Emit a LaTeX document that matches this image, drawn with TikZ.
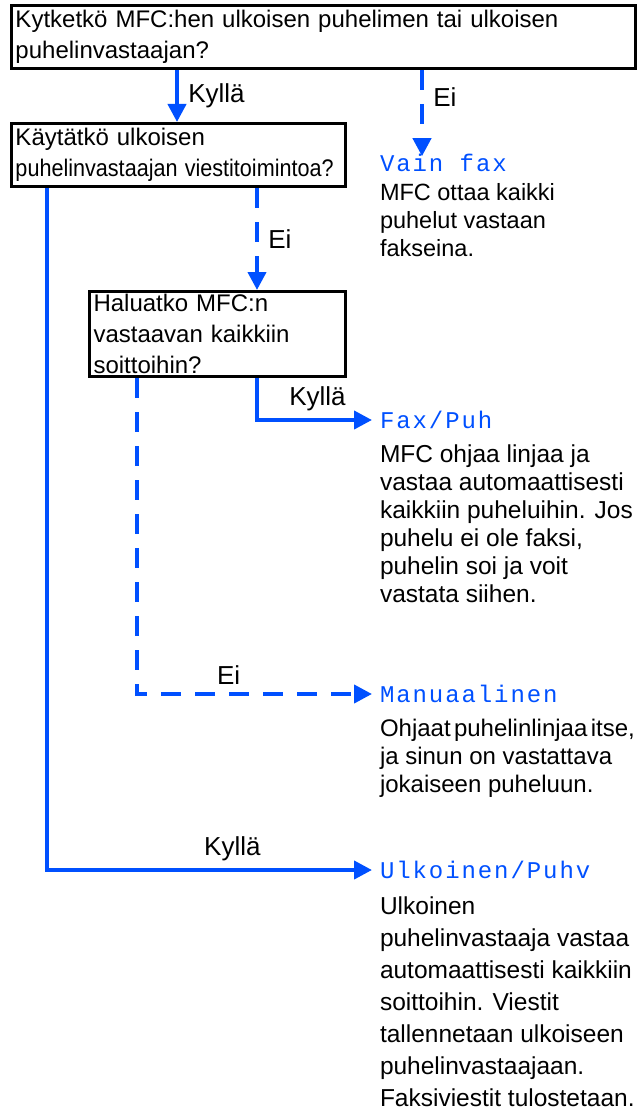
\documentclass[tikz,border=0pt]{standalone}
\usepackage{fontspec}
\usepackage{graphicx}
\setmainfont{Liberation Sans}
\newfontfamily\lcdfont[LetterSpace=8]{Liberation Mono}
\usetikzlibrary{arrows.meta,positioning}
\definecolor{flowblue}{RGB}{0,80,255}

\begin{document}
\begin{tikzpicture}[x=1pt,y=-1pt,line width=4pt,>={Triangle[length=18pt,width=18pt]},
  qbox/.style={draw,line width=3pt,anchor=north west,align=left,inner xsep=4pt,inner ysep=2pt,font=\fontsize{24}{31}\selectfont},
  mode/.style={anchor=west,inner sep=0pt,text=flowblue,font=\lcdfont\fontsize{24}{28}\selectfont},
  desc/.style={anchor=north west,inner sep=0pt,align=left,font=\fontsize{24.5}{28}\selectfont},
  yes/.style={draw=flowblue,->},
  no/.style={draw=flowblue,->,dash pattern=on 20pt off 14pt},
  lbl/.style={font=\fontsize{26}{30}\selectfont,text=black}]
  \useasboundingbox (0,0) rectangle (640,1113);

  % questions
  \node[qbox,text width=616pt,minimum height=63pt] (q1) at (10,4)
    {Kytketkö MFC:hen ulkoisen puhelimen tai ulkoisen\\puhelinvastaajan?};
  \node[qbox,text width=326pt,minimum height=63pt] (q2) at (10,122)
    {Käytätkö ulkoisen\\\scalebox{0.9}[1]{puhelinvastaajan viestitoimintoa?}};
  \node[qbox,text width=248pt,minimum height=85pt] (q3) at (88,290)
    {Haluatko MFC:n\\vastaavan kaikkiin\\soittoihin?};

  % modes
  \node[mode] (vf) at (378,163) {Vain fax};
  \node[desc,below=8pt of vf.south west,anchor=north west,font=\fontsize{23.5}{28}\selectfont] (vfd)
    {MFC ottaa kaikki\\puhelut vastaan\\fakseina.};
  \node[mode] (fp) at (378,420) {Fax/Puh};
  \node[desc,below=12pt of fp.south west,anchor=north west] (fpd)
    {MFC ohjaa linjaa ja\\vastaa automaattisesti\\kaikkiin puheluihin. Jos\\puhelu ei ole faksi,\\puhelin soi ja voit\\vastata siihen.};
  \node[mode] (man) at (378,694) {Manuaalinen};
  \node[desc,below=12pt of man.south west,anchor=north west,font=\fontsize{24}{28}\selectfont] (mand)
    {{\spaceskip=0.14em Ohjaat puhelinlinjaa itse,}\\ja sinun on vastattava\\jokaiseen puheluun.};
  \node[mode] (ulk) at (378,870) {Ulkoinen/Puhv};
  \node[desc,below=14pt of ulk.south west,anchor=north west,font=\fontsize{24.5}{32}\selectfont] (ulkd)
    {Ulkoinen\\puhelinvastaaja vastaa\\automaattisesti kaikkiin\\soittoihin. Viestit\\tallennetaan ulkoiseen\\puhelinvastaajaan.\\Faksiviestit tulostetaan.};

  % connectors
  \draw[yes] ([xshift=167pt]q1.south west) -- node[lbl,right=6pt]{Kyllä} ([xshift=167pt]q2.north west);
  \draw[no] ([xshift=412pt]q1.south west) -- node[lbl,right=6pt,pos=0.32]{Ei} ([xshift=44pt,yshift=-4pt]vf.north west);
  \draw[no] ([xshift=247pt]q2.south west) -- node[lbl,right=6pt]{Ei} ([xshift=169pt]q3.north west);
  \draw[yes,shorten >=6pt] ([xshift=169pt]q3.south west) |- node[lbl,pos=0.75,above=4pt]{Kyllä} (fp.west);
  \draw[no,shorten >=6pt] ([xshift=49pt]q3.south west) |- node[lbl,pos=0.69,above=4pt]{Ei} (man.west);
  \draw[yes,shorten >=6pt] ([xshift=37pt]q2.south west) |- node[lbl,pos=0.78,above=4pt]{Kyllä} (ulk.west);
\end{tikzpicture}
\end{document}
